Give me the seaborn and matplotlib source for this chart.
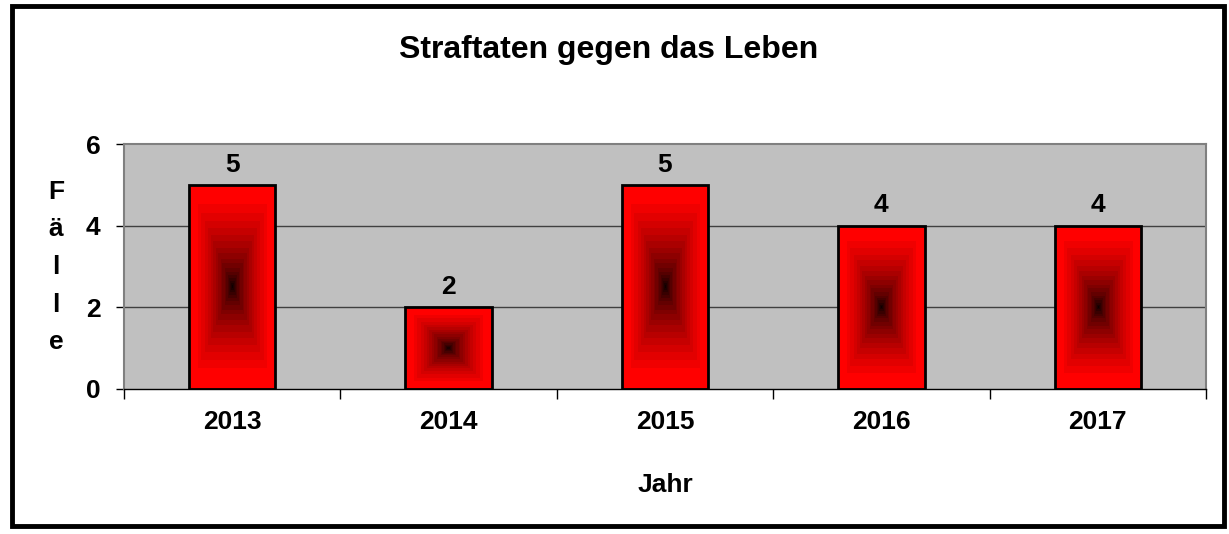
import numpy as np
import matplotlib
matplotlib.use("Agg")
import matplotlib.pyplot as plt
import seaborn as sns
from matplotlib.patches import Rectangle

years = ["2013", "2014", "2015", "2016", "2017"]
cases = [5, 2, 5, 4, 4]
yticks = [0, 2, 4, 6]

sns.set_theme(style="white")
plt.rcParams['font.family'] = ['Liberation Sans', 'DejaVu Sans']
plt.rcParams['font.weight'] = 'bold'
plt.rcParams['text.color'] = 'black'
plt.rcParams['xtick.color'] = 'black'
plt.rcParams['ytick.color'] = 'black'

FS = 19

fig = plt.figure(figsize=(12.29, 5.34), dpi=100)
fig.patch.set_facecolor('white')
ax = fig.add_axes([124/1229, 1-389/534, (1206-124)/1229, (389-144)/534])
ax.set_facecolor('#C0C0C0')

sns.barplot(x=years, y=cases, width=0.4, color='red', edgecolor='black',
            linewidth=2, saturation=1, ax=ax, zorder=3)

ax.set_ylim(0, 6)
ax.set_xlim(-0.5, 4.5)
ax.set_yticks(yticks)
ax.set_yticklabels([str(t) for t in yticks], fontsize=FS, fontweight='bold', color='black')
ax.set_xticks(range(len(years)))
ax.set_xticklabels(years, fontsize=FS, fontweight='bold', color='black')
ax.tick_params(axis='x', length=0, pad=15)
ax.tick_params(axis='y', length=6, width=1, color='black', pad=11, direction='out', left=True)
ax.set_xticks(np.arange(-0.5, 5, 1), minor=True)
ax.tick_params(axis='x', which='minor', length=7, width=1, color='black', direction='out', bottom=True)

for yv in [2, 4]:
    ax.axhline(yv, color='#404040', lw=1, zorder=1)

for s in ['left', 'top', 'right']:
    ax.spines[s].set_color('#808080')
    ax.spines[s].set_linewidth(1.5)
ax.spines['bottom'].set_color('black')
ax.spines['bottom'].set_linewidth(1)
ax.set_xlabel('')
ax.set_ylabel('')

# rectangular gradient fill (red edges -> black centre)
n = 200
u = np.linspace(-1, 1, n)
U, V = np.meshgrid(u, u)
D = np.maximum(np.abs(U), np.abs(V))
R = np.clip(D / 0.8, 0, 1) ** 0.55
R = np.floor(R * 18) / 18
img = np.zeros((n, n, 3))
img[..., 0] = R
for p in ax.patches:
    x0, y0 = p.get_x(), p.get_y()
    w, h = p.get_width(), p.get_height()
    im = ax.imshow(img, extent=[x0, x0 + w, y0, y0 + h], aspect='auto',
                   zorder=2.5, interpolation='nearest')
    im.set_clip_path(p)
    p.set_facecolor('none')
    p.set_zorder(3)
    ax.text(x0 + w/2, y0 + h + 0.2, str(int(round(h))), ha='center', va='bottom',
            fontsize=FS, fontweight='bold', color='black', zorder=4)

ax.set_xlim(-0.5, 4.5)
ax.set_ylim(0, 6)

fig.text(0.495, 1-50/534, 'Straftaten gegen das Leben', ha='center', va='center',
         fontsize=23, fontweight='bold', color='black')
fig.text(665/1229, 1-485/534, 'Jahr', ha='center', va='center', fontsize=FS,
         fontweight='bold', color='black')
fig.text(56/1229, 1-267/534, 'F\nä\nl\nl\ne', ha='center', va='center', fontsize=FS,
         fontweight='bold', linespacing=1.72, color='black')

fig.add_artist(Rectangle((12/1229, 8/534), (1224-12)/1229, (520)/534, transform=fig.transFigure,
                         fill=False, edgecolor='black', linewidth=3.5))

fig.savefig('out.png', dpi=100)
